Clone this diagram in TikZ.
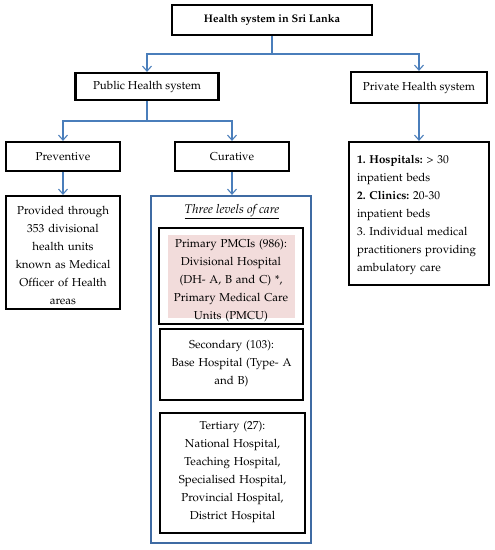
\documentclass[tikz,border=0pt]{standalone}
\usepackage[T1]{fontenc}
\renewcommand{\rmdefault}{ppl}
\usetikzlibrary{arrows.meta}
\definecolor{linkblue}{HTML}{4A7EBB}
\definecolor{frameblue}{HTML}{3F6BA3}
\definecolor{softpink}{HTML}{F2DCDB}
\frenchspacing
\begin{document}
\begin{tikzpicture}[x=1pt,y=-1pt,
  box/.style={draw=black,line width=2.2pt,fill=white,inner sep=0pt},
  txt/.style={inner sep=0pt,align=center,font=\fontsize{11.5}{18}\selectfont},
  conn/.style={draw=linkblue,line width=1.1pt,-{Straight Barb[length=5pt,width=9pt,line width=1.1pt]}},
  plain/.style={draw=linkblue,line width=1.1pt}]
\useasboundingbox[fill=white] (0,0) rectangle (495,550);

% top
\node[box,minimum width=200pt,minimum height=30pt,font=\fontsize{11}{13}\selectfont\bfseries] (top) at (272,20) {Health system in Sri Lanka};
% second level
\node[box,minimum width=143pt,minimum height=27pt,font=\fontsize{11.5}{13}\selectfont] (pub) at (147,86.5) {Public Health system};
\node[box,minimum width=136pt,minimum height=31pt,font=\fontsize{11.5}{13}\selectfont] (priv) at (419,87.5) {Private Health system};
% third level
\node[box,minimum width=114pt,minimum height=29pt,font=\fontsize{11.5}{13}\selectfont] (prev) at (63,156.5) {Preventive};
\node[box,minimum width=114pt,minimum height=29pt,font=\fontsize{11.5}{13}\selectfont] (cur) at (232,156.5) {Curative};
% preventive description
\node[box,minimum width=114pt,minimum height=113pt] (prevd) at (63,252.5) {};
\node[txt,text width=110pt] (prevt) at (63,255) {Provided through\\353 divisional\\health units\\known as Medical\\Officer of Health\\areas};
% private description
\node[box,minimum width=140pt,minimum height=143pt] (privd) at (419,213.5) {};
\node[txt,text width=130pt,align=left] (privt) at (422,215) {\textbf{1. Hospitals:} \textgreater{} 30\\inpatient beds\\\textbf{2. Clinics:} 20-30\\inpatient beds\\3. Individual medical\\practitioners providing\\ambulatory care};
% curative frame
\node[draw=frameblue,line width=2.2pt,minimum width=160pt,minimum height=347pt,inner sep=0pt] (frame) at (231,369.5) {};
\node[txt,font=\fontsize{12.5}{18}\selectfont] (lvl) at (232,212) {\underline{\textit{Three levels of care}}};
% primary
\node[box,minimum width=144pt,minimum height=96pt] (prim) at (231,276) {};
\fill[softpink] (168,235) rectangle (295,318);
\node[txt,text width=135pt] (primt) at (231,281) {Primary PMCIs (986):\\Divisional Hospital\\(DH- A, B and C) *,\\Primary Medical Care\\Units (PMCU)};
% secondary
\node[box,minimum width=143pt,minimum height=71pt] (sec) at (231.5,364.5) {};
\node[txt,text width=135pt] (sect) at (231.5,364) {Secondary (103):\\Base Hospital (Type- A\\and B)};
% tertiary
\node[box,minimum width=145pt,minimum height=120pt] (ter) at (232.5,473) {};
\node[txt,text width=140pt] (tert) at (232.5,471.5) {Tertiary (27):\\National Hospital,\\Teaching Hospital,\\Specialised Hospital,\\Provincial Hospital,\\District Hospital};

% connectors
\coordinate (j1) at (272,54);
\coordinate (j2) at (147,121);
\draw[plain] (top.south) -- (j1);
\draw[conn] (j1) -| (pub.north);
\draw[conn] (j1) -| (priv.north);
\draw[plain] (pub.south) -- (j2);
\draw[conn] (j2) -| (prev.north);
\draw[conn] (j2) -| (cur.north);
\draw[conn] (prev.south) -- (prevd.north);
\draw[conn] (cur.south) -- (frame.north -| cur.south);
\draw[conn] (priv.south) -- (privd.north);
\end{tikzpicture}
\end{document}
